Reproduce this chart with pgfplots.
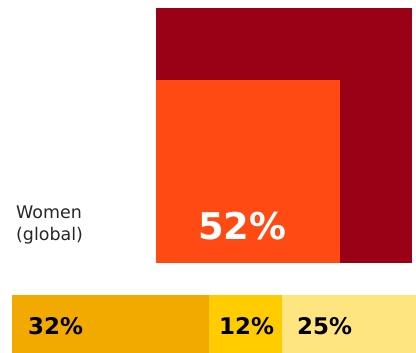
\documentclass[border=0pt]{standalone}
\usepackage{pgfplots}
\pgfplotsset{compat=1.18}
\usepackage{fontspec}
\setmainfont{DejaVu Sans}
\definecolor{darkred}{RGB}{154,0,22}
\definecolor{orangered}{RGB}{255,74,20}
\definecolor{amberA}{RGB}{242,169,0}
\definecolor{amberB}{RGB}{255,204,0}
\definecolor{amberC}{RGB}{255,229,128}
\begin{document}
\begin{tikzpicture}
\begin{axis}[
  scale only axis, width=416bp, height=353bp,
  xmin=0, xmax=416, ymin=0, ymax=353, y dir=reverse,
  hide axis, clip=false]
\path (rel axis cs:0,0) rectangle (rel axis cs:1,1);
% big square (100%)
\addplot[draw=none, fill=darkred] coordinates {(156,8) (412,8) (412,263) (156,263)} -- cycle;
% inner square (52%)
\addplot[draw=none, fill=orangered] coordinates {(156,80) (340,80) (340,263) (156,263)} -- cycle;
% bottom bar segments
\addplot[draw=none, fill=amberA] coordinates {(12,295) (209,295) (209,353) (12,353)} -- cycle;
\addplot[draw=none, fill=amberB] coordinates {(209,295) (282,295) (282,353) (209,353)} -- cycle;
\addplot[draw=none, fill=amberC] coordinates {(282,295) (416,295) (416,353) (282,353)} -- cycle;
% labels
\node[anchor=base west, align=left, font=\fontsize{17.5}{22}\selectfont, text=black!85, inner sep=0pt] at (axis cs:16,240) {Women\\(global)};
\node[anchor=base west, font=\bfseries\fontsize{37}{37}\selectfont, text=white, inner sep=0pt] at (axis cs:198,239) {52\%};
\node[anchor=base west, font=\bfseries\fontsize{23}{23}\selectfont, inner sep=0pt] at (axis cs:28,334) {32\%};
\node[anchor=base west, font=\bfseries\fontsize{23}{23}\selectfont, inner sep=0pt] at (axis cs:219,334) {12\%};
\node[anchor=base west, font=\bfseries\fontsize{23}{23}\selectfont, inner sep=0pt] at (axis cs:297,334) {25\%};
\end{axis}
\end{tikzpicture}
\end{document}
